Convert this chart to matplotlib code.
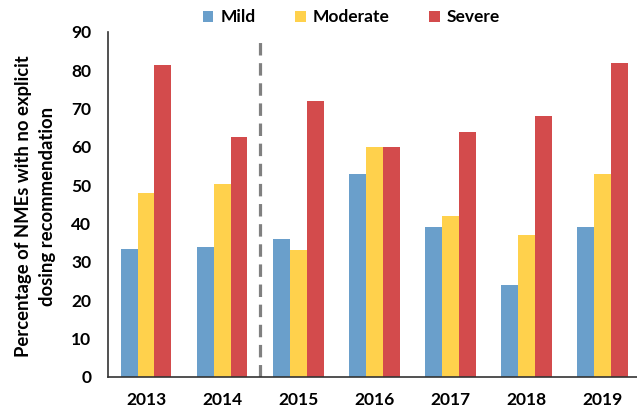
import numpy as np
import matplotlib.pyplot as plt
from matplotlib.patches import Patch

plt.rcParams["font.family"] = ["Lato", "DejaVu Sans"]
plt.rcParams["font.weight"] = "bold"

############################################################
# Data
############################################################

years = ["2013", "2014", "2015", "2016", "2017", "2018", "2019"]
mild = [33.5, 34, 36, 53, 39, 24, 39]
moderate = [48, 50.3, 33, 60, 42, 37, 53]
severe = [81.3, 62.7, 72, 60, 64, 68, 82]

series_names = ["Mild", "Moderate", "Severe"]
colors = ["#6A9FCB", "#FFD14C", "#D34B4C"]

############################################################
# Figure
############################################################

fig = plt.figure(figsize=(6.37, 4.08), dpi=100)
ax = fig.add_axes([0.1695, 0.076, 0.8305, 0.8456])

x = np.arange(len(years))
width = 0.222

for i, (vals, color) in enumerate(zip([mild, moderate, severe], colors)):
    ax.bar(x + (i - 1) * width, vals, width, color=color, linewidth=0)

# divider between 2014 and 2015
ax.plot([1.5, 1.5], [0, 88.7], color="#808080", linewidth=2.3,
        linestyle=(0, (3.9, 2.4)), solid_capstyle="butt")

ax.set_xlim(-0.5, 6.45)
ax.set_ylim(0, 90)
ax.set_yticks(range(0, 91, 10))
ax.set_xticks(x)
ax.set_xticklabels(years)

ax.tick_params(axis="both", length=0, labelsize=12.5)
ax.tick_params(axis="x", pad=11)
ax.tick_params(axis="y", pad=12)

ax.spines["top"].set_visible(False)
ax.spines["right"].set_visible(False)
ax.spines["left"].set_color("#333333")
ax.spines["bottom"].set_color("#333333")
ax.spines["left"].set_linewidth(1.2)
ax.spines["bottom"].set_linewidth(1.2)

ax.set_ylabel("Percentage of NMEs with no explicit\ndosing recommendation",
              fontsize=13.3, fontweight="bold", linespacing=1.5)
ax.yaxis.set_label_coords(-0.098, 0.494)

############################################################
# Legend (spread to span roughly x=203..500 px)
############################################################

handles = [Patch(facecolor=c, edgecolor="none") for c in colors]
leg_size = 12.5
target_left, target_right = 203, 500


def make_legend(colsp, cx):
    return fig.legend(handles, series_names, loc="center", ncol=3,
                      bbox_to_anchor=(cx, 0.958), frameon=False,
                      fontsize=leg_size, handlelength=0.6, handleheight=0.6,
                      handletextpad=0.4, columnspacing=colsp)


colsp = 3.0
cx = 0.552
leg = make_legend(colsp, cx)
fig.canvas.draw()
renderer = fig.canvas.get_renderer()
left = leg.legend_handles[0].get_window_extent(renderer).x0
right = leg.get_texts()[-1].get_window_extent(renderer).x1
span = right - left
font_px = leg_size * fig.dpi / 72
colsp = colsp + ((target_right - target_left) - span) / 2 / font_px
leg.remove()

leg = make_legend(colsp, cx)
fig.canvas.draw()
left = leg.legend_handles[0].get_window_extent(renderer).x0
right = leg.get_texts()[-1].get_window_extent(renderer).x1
shift = ((target_left + target_right) / 2 - (left + right) / 2) / fig.bbox.width
leg.remove()
leg = make_legend(colsp, cx + shift)

fig.savefig("out.png", dpi=100)
